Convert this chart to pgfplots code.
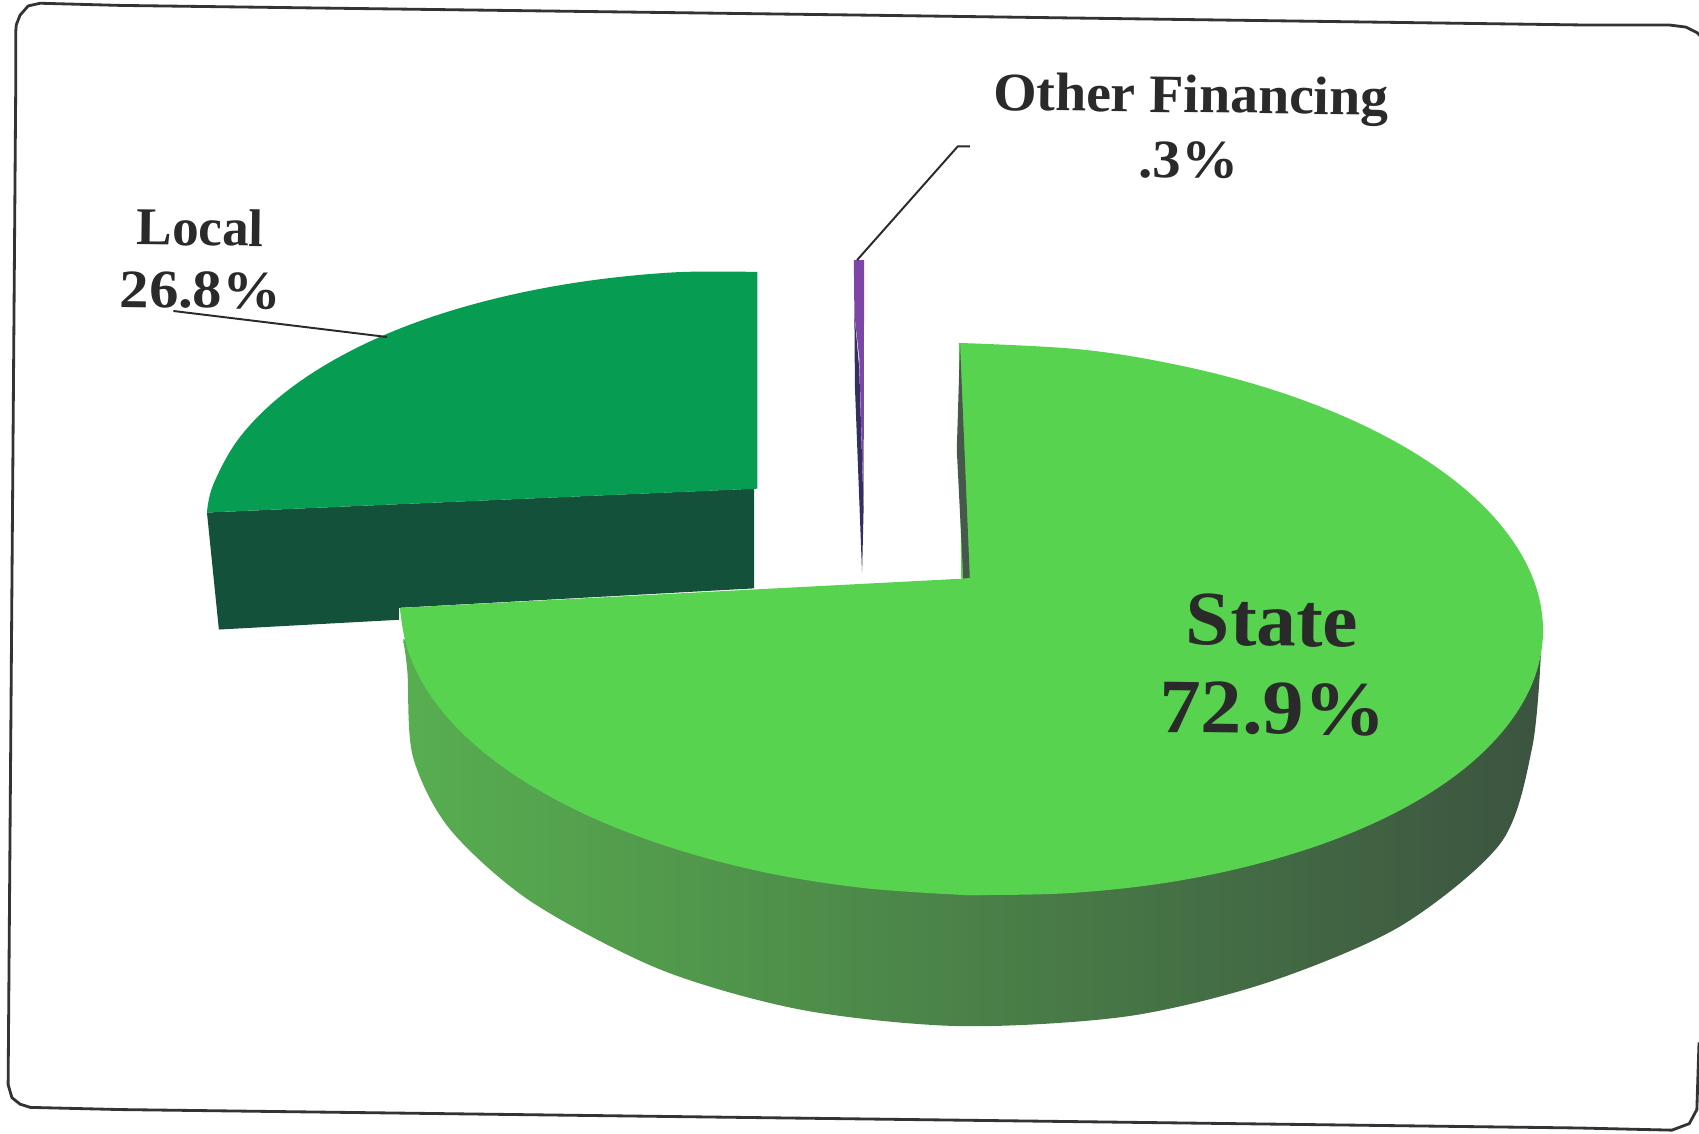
\documentclass[border=0pt]{standalone}
\usepackage{fontspec}
\setmainfont{Liberation Serif}
\usepackage{pgfplots}
\pgfplotsset{compat=1.18}
\definecolor{stateTop}{HTML}{58D350}
\definecolor{localTop}{HTML}{069C52}
\definecolor{localSide}{HTML}{14513A}
\definecolor{notchSide}{HTML}{45584A}
\definecolor{otherTop}{HTML}{7E45A8}
\definecolor{otherSide}{HTML}{33305F}
\definecolor{sideL}{HTML}{58AE50}
\definecolor{sideM}{HTML}{4E7D48}
\definecolor{sideR}{HTML}{3C5440}
\definecolor{ink}{HTML}{2A2A2A}
\newcommand{\lab}[2]{\fontsize{#1}{#1}\selectfont\bfseries #2}
\begin{document}
\begin{tikzpicture}
\useasboundingbox (0,0) rectangle (1568pt,1046pt);
\begin{axis}[
  at={(0,0)}, anchor=south west,
  width=1568pt, height=1046pt, scale only axis,
  xmin=0, xmax=1568, ymin=0, ymax=1046, y dir=reverse,
  hide axis, no markers,
]
% frame
\addplot[draw=black!80, line width=2.6pt, line join=round] coordinates {
 (1572,36) (1566,30) (1556,25) (1540,23) (1457,23) (800,14) (111,5) (37,3) (26,5.5) (18.5,14) (15,23) (14.5,30) (14.5,83) (7.5,1001) (11,1013) (18.5,1019) (28,1022) (111,1024) (1457,1041) (1543,1043) (1559,1037) (1566,1024) (1568,962)};
% local side and top
\addplot[draw=none, fill=localSide] coordinates {
 (191,473) (202,581) (368,572) (368,561) (696,543) (696,451)} --cycle;
\addplot[draw=none, fill=localTop, smooth, tension=0.6] coordinates {
 (699,251) (621.2,251.4) (533.1,260.6) (450.5,277.2) (375.8,300.6) (311.4,330.4) (259.1,365.4) (220.5,404.6) (196.9,447) (191,473)};
\addplot[draw=none, fill=localTop] coordinates {
 (699,251) (530,266) (376,306) (259,372) (191,473) (699,451)} --cycle;
% other
\addplot[draw=none, fill=otherTop] coordinates {
 (788,240) (797.5,240) (797,470) (793,330) (788.5,290)} --cycle;
\addplot[draw=none, fill=otherSide] coordinates {
 (788.5,290) (793,340) (797,470) (795.6,529) (789,357)} --cycle;
% state side
\addplot[draw=none, left color=sideL, middle color=sideM, right color=sideR, smooth] coordinates {
 (1422,605) (1414,690) (1385,778) (1292,855) (1169,907) (1040,938) (886,947) (740,932) (610,895) (490,832) (415,765) (381,698) (376,620) (372,590)};
% state top
\addplot[draw=none, fill=stateTop, smooth, tension=0.6] coordinates {
 (885,316.5) (995.4,322.3) (1083.8,336.2) (1166.6,357.2) (1241.2,384.7) (1305.2,417.8) (1356.9,455.6) (1394.6,497) (1417.2,540.5) (1424,585) (1414.8,629.1) (1389.8,671.3) (1349.9,710.6) (1296.2,745.6) (1230.4,775.3) (1154.4,798.8) (1071.6,815.4) (982.1,824.5) (890,826)};
\addplot[draw=none, fill=stateTop, smooth, tension=0.6] coordinates {
 (890,826) (798.6,819.7) (710.2,806) (627.4,784.8) (552.8,757.3) (488.8,724.2) (437.1,686.4) (399.4,645) (376.8,601.5) (369,561)};
\addplot[draw=none, fill=stateTop] coordinates {
 (369,561) (889,534) (905,534) (905,826) (890,826) (700,760) (500,660)} --cycle;
\addplot[draw=none, fill=notchSide] coordinates {
 (885,350) (883,415) (889,534) (895,533) (886,317)} --cycle;
% leaders
\addplot[draw=ink, line width=1.8pt] coordinates {(895,135) (884,135) (791,240)};
\addplot[draw=ink, line width=1.8pt] coordinates {(160,287) (357,311)};
% labels
\node[text=ink, rotate=-0.7, xscale=1.03] at (axis cs:1099,92) {\lab{50}{Other Financing}};
\node[text=ink, rotate=-0.7, xscale=1.05] at (axis cs:1097,148) {\lab{50}{.3\%}};
\node[text=ink, rotate=-0.7] at (axis cs:185,210) {\lab{49}{Local}};
\node[text=ink, rotate=-0.7, xscale=1.08] at (axis cs:185,268) {\lab{50}{26.8\%}};
\node[text=ink, rotate=-0.7, xscale=1.03] at (axis cs:1174,573) {\lab{71}{State}};
\node[text=ink, rotate=-0.7, xscale=1.07] at (axis cs:1175,654) {\lab{71}{72.9\%}};
\end{axis}
\end{tikzpicture}
\end{document}
